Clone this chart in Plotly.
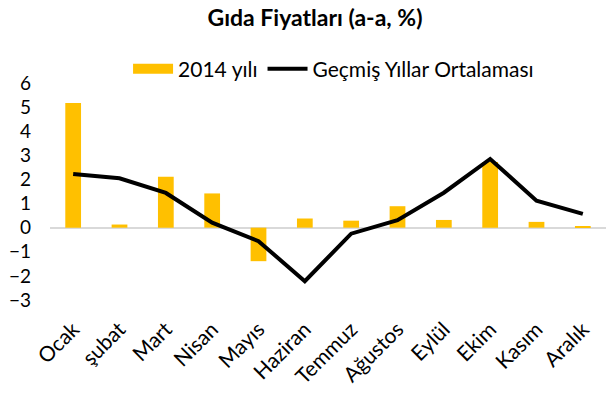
import plotly.graph_objects as go

months = ["Ocak", "şubat", "Mart", "Nisan", "Mayıs", "Haziran", "Temmuz",
          "Ağustos", "Eylül", "Ekim", "Kasım", "Aralık"]
y2014 = [5.17, 0.13, 2.11, 1.42, -1.39, 0.38, 0.29, 0.89, 0.32, 2.72, 0.24, 0.04]
avg_past = [2.23, 2.05, 1.44, 0.21, -0.56, -2.22, -0.25, 0.31, 1.45, 2.85, 1.12, 0.57]
yticks = [-3, -2, -1, 0, 1, 2, 3, 4, 5, 6]

FONT = "Lato"
BAR_COLOR = "#FFC000"

fig = go.Figure()
fig.add_trace(go.Bar(x=months, y=y2014, name="2014 yılı", showlegend=False,
                     marker=dict(color=BAR_COLOR, line=dict(width=0)), width=0.34))
# legend swatch for the bars (wide rectangle like the original)
fig.add_trace(go.Scatter(x=[None], y=[None], name="2014 yılı", mode="lines",
                         line=dict(color=BAR_COLOR, width=12)))
fig.add_trace(go.Scatter(x=months, y=avg_past, name="Geçmiş Yıllar Ortalaması",
                         mode="lines", line=dict(color="black", width=4)))

fig.update_layout(
    width=606, height=409,
    margin=dict(l=50, r=0, t=83, b=109, autoexpand=False),
    paper_bgcolor="white", plot_bgcolor="white",
    font=dict(family=FONT, color="black", size=18),
    title=dict(text="<b>Gıda Fiyatları (a-a, %)</b>", x=315 / 606, xanchor="center",
               xref="container", yref="container",
               y=1 - 18 / 409, yanchor="middle", font=dict(size=23, family=FONT)),
    legend=dict(orientation="h", x=0.51, xanchor="center", yref="container",
                y=1 - 69 / 409, yanchor="middle",
                font=dict(size=21, family=FONT), itemwidth=40,
                traceorder="normal", bgcolor="rgba(0,0,0,0)"),
    showlegend=True,
)
fig.update_xaxes(tickangle=-45, showline=False, showgrid=False, ticks="",
                 tickfont=dict(size=21), zeroline=False, ticklabelstandoff=12)
fig.update_yaxes(range=[-3, 6], tickvals=yticks, showgrid=False, zeroline=True,
                 zerolinecolor="#D9D9D9", zerolinewidth=1.5, showline=False, ticks="",
                 tickfont=dict(size=19), ticklabelstandoff=18)

fig.write_html("out.html", config={"displayModeBar": False},
               post_script="document.body.style.margin='0px';")
